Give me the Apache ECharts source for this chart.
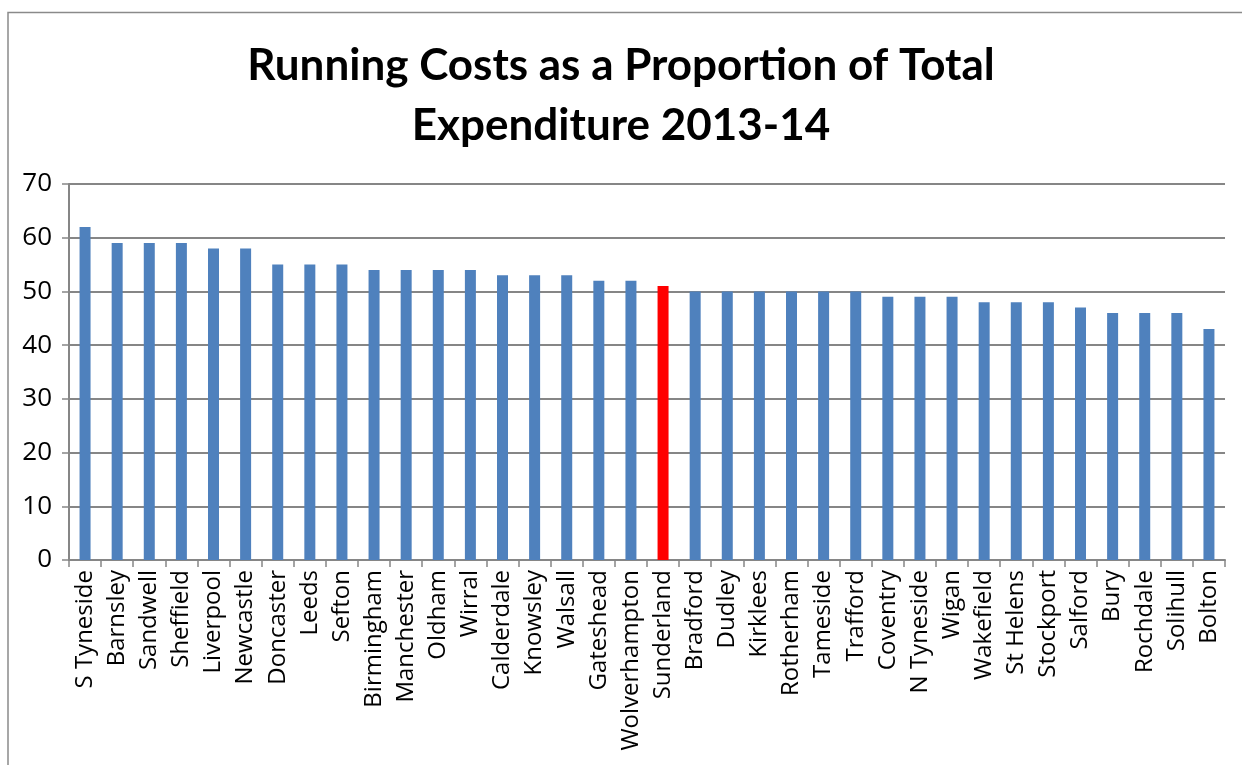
<!DOCTYPE html>
<html>
<head>
<meta charset="utf-8">
<script src="https://cdn.jsdelivr.net/npm/echarts@6/dist/echarts.min.js"></script>
<style>
  html, body { margin: 0; padding: 0; background: #fff; }
  #chart { width: 1242px; height: 765px; }
</style>
</head>
<body>
<div id="chart"></div>
<script>
// Authorities, ordered by share of expenditure spent on running costs
const authorities = [
  'S Tyneside', 'Barnsley', 'Sandwell', 'Sheffield', 'Liverpool', 'Newcastle',
  'Doncaster', 'Leeds', 'Sefton', 'Birmingham', 'Manchester', 'Oldham',
  'Wirral', 'Calderdale', 'Knowsley', 'Walsall', 'Gateshead', 'Wolverhampton',
  'Sunderland', 'Bradford', 'Dudley', 'Kirklees', 'Rotherham', 'Tameside',
  'Trafford', 'Coventry', 'N Tyneside', 'Wigan', 'Wakefield', 'St Helens',
  'Stockport', 'Salford', 'Bury', 'Rochdale', 'Solihull', 'Bolton'
];
// Running costs as % of total expenditure
const runningCostPct = [
  62, 59, 59, 59, 58, 58,
  55, 55, 55, 54, 54, 54,
  54, 53, 53, 53, 52, 52,
  51, 50, 50, 50, 50, 50,
  50, 49, 49, 49, 48, 48,
  48, 47, 46, 46, 46, 43
];
const highlighted = 'Sunderland';
const yTicks = [0, 10, 20, 30, 40, 50, 60, 70];

const LABEL_FONT = '"Open Sans", "Noto Sans", sans-serif';
const TITLE_FONT = 'Lato, "Open Sans", sans-serif';
const chart = echarts.init(document.getElementById('chart'));

chart.setOption({
  animation: false,
  backgroundColor: '#fff',
  title: {
    text: 'Running Costs as a Proportion of Total\nExpenditure 2013-14',
    left: 'center',
    top: 31,
    textStyle: {
      fontFamily: TITLE_FONT,
      fontWeight: 'bold',
      fontSize: 44,
      lineHeight: 60,
      color: '#000'
    }
  },
  graphic: [{
    type: 'rect',
    shape: { x: 8, y: 12.5, width: 1250, height: 800 },
    style: { fill: 'none', stroke: '#8a8a8a', lineWidth: 1.5 },
    silent: true
  }],
  grid: { left: 69, right: 17, top: 184, bottom: 205, containLabel: false },
  xAxis: {
    type: 'category',
    data: authorities,
    axisLine: { show: true, lineStyle: { color: '#868686', width: 2 } },
    axisTick: { show: true, alignWithLabel: false, interval: 0, length: 7,
      lineStyle: { color: '#868686', width: 1.5 } },
    axisLabel: {
      interval: 0, rotate: 90, margin: 10,
      fontFamily: LABEL_FONT, fontSize: 24, color: '#000'
    }
  },
  yAxis: {
    type: 'value',
    min: yTicks[0],
    max: yTicks[yTicks.length - 1],
    interval: 10,
    axisLine: { show: true, lineStyle: { color: '#868686', width: 2 } },
    axisTick: { show: true, length: 7, lineStyle: { color: '#868686', width: 1.5 } },
    axisLabel: { margin: 17, fontFamily: LABEL_FONT, fontSize: 26, color: '#000' },
    splitLine: { show: true, lineStyle: { color: '#868686', width: 2 } }
  },
  series: [{
    type: 'bar',
    barWidth: 11,
    data: runningCostPct.map((v, i) => ({
      value: v,
      itemStyle: { color: authorities[i] === highlighted ? '#ff0000' : '#4f81bd' }
    }))
  }]
});
</script>
</body>
</html>
